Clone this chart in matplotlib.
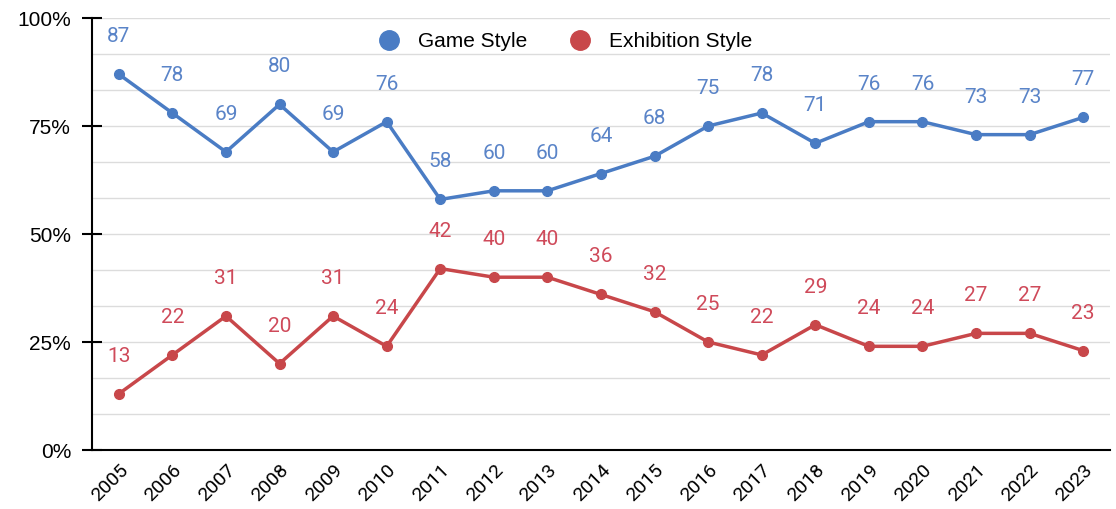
import numpy as np
import matplotlib
matplotlib.use("Agg")
import matplotlib.pyplot as plt
from matplotlib.ticker import MultipleLocator, FuncFormatter

years = list(range(2005, 2024))
game_style = [87, 78, 69, 80, 69, 76, 58, 60, 60, 64, 68, 75, 78, 71, 76, 76, 73, 73, 77]
exhibition_style = [13, 22, 31, 20, 31, 24, 42, 40, 40, 36, 32, 25, 22, 29, 24, 24, 27, 27, 23]

blue = "#4a7cc4"
red = "#c8474a"
blue_txt = "#5a84c8"
red_txt = "#cf4a5a"

plt.rcParams["font.family"] = ["Liberation Sans", "DejaVu Sans"]

fig = plt.figure(figsize=(11.16, 5.09), dpi=100)
ax = fig.add_axes([92 / 1116, 1 - 450 / 509, (1110 - 92) / 1116, (450 - 18) / 509])

x = np.arange(len(years))
ax.plot(x, game_style, "-o", color=blue, lw=2.5, ms=7, label="Game Style", zorder=3)
ax.plot(x, exhibition_style, "-o", color=red, lw=2.5, ms=7, label="Exhibition Style", zorder=3)

for i in range(len(years)):
    ax.annotate(str(game_style[i]), (x[i], game_style[i]), xytext=(0, 27),
                textcoords="offset points", ha="center", va="center",
                color=blue_txt, fontsize=15, family="Roboto")
    ax.annotate(str(exhibition_style[i]), (x[i], exhibition_style[i]), xytext=(0, 27),
                textcoords="offset points", ha="center", va="center",
                color=red_txt, fontsize=15, family="Roboto")

ax.set_xlim(-0.5, len(years) - 0.5)
ax.set_ylim(0, 100)
ax.set_xticks(x)
ax.set_xticklabels([str(y) for y in years], rotation=45, ha="right",
                   rotation_mode="anchor", fontsize=14, family="Roboto")
ax.tick_params(axis="x", length=0, pad=8)
ax.yaxis.set_major_locator(MultipleLocator(25))
ax.yaxis.set_minor_locator(MultipleLocator(25 / 3))
ax.yaxis.set_major_formatter(FuncFormatter(lambda v, p: f"{int(v)}%"))
ax.tick_params(axis="y", which="major", direction="inout", length=14, width=1.5,
               labelsize=15, pad=8)
ax.tick_params(axis="y", which="minor", length=0)
ax.grid(axis="y", which="both", color="#dcdcdc", lw=1, zorder=0)

for s in ["top", "right"]:
    ax.spines[s].set_visible(False)
ax.spines["left"].set_linewidth(1.5)
ax.spines["bottom"].set_linewidth(1.5)

ax.legend(loc="upper center", bbox_to_anchor=(0.465, 1.01), ncol=2, frameon=False,
          fontsize=15, markerscale=2.0, handlelength=1.0, columnspacing=2.0,
          handletextpad=0.9)
leg = ax.get_legend()
for h in leg.legend_handles:
    h.set_linestyle("")

fig.savefig("out.png", dpi=100)
